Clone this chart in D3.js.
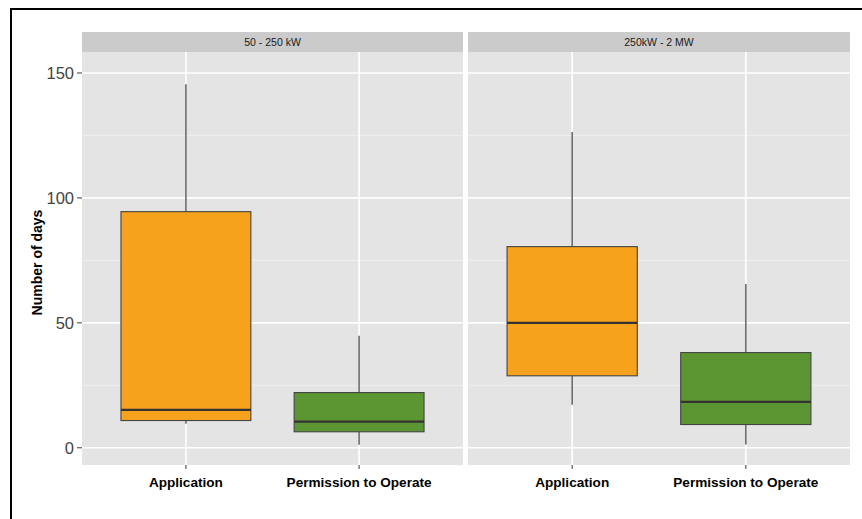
<!DOCTYPE html>
<html>
<head>
<meta charset="utf-8">
<script src="https://cdn.jsdelivr.net/npm/d3@7"></script>
<style>
  body { margin: 0; background: #fff; }
  svg { display: block; font-family: "Liberation Sans", Arial, sans-serif; }
</style>
</head>
<body>
<div id="chart"></div>
<script>
// facets and categories
const facets = ["50 - 250 kW", "250kW - 2 MW"];
const categories = ["Application", "Permission to Operate"];
const fills = ["#F6A21C", "#5C9632"];

// box stats per facet, in category order
const whiskLow = [[9.6, 1.2], [17.2, 1.3]];
const q1 = [[10.9, 6.4], [28.8, 9.3]];
const median = [[15.2, 10.5], [50, 18.4]];
const q3 = [[94.5, 22.1], [80.5, 38.1]];
const whiskHigh = [[145.5, 44.8], [126.4, 65.5]];

const yTicks = [0, 50, 100, 150];
const yMinor = [25, 75, 125];

const W = 862, H = 519;
const panelTop = 52, panelBottom = 465;
const stripH = 20;
const panelX = [[82, 463], [468, 850]];

const svg = d3.select("#chart").append("svg")
    .attr("width", W)
    .attr("height", H);

// outer frame (only left and top edges are visible)
svg.append("line").attr("x1", 11).attr("x2", 11).attr("y1", 9).attr("y2", H)
  .attr("stroke", "#000").attr("stroke-width", 2);
svg.append("line").attr("x1", 10).attr("x2", W).attr("y1", 9).attr("y2", 9)
  .attr("stroke", "#000").attr("stroke-width", 2);

const y = d3.scaleLinear()
  .domain([-6.9, 158.4])
  .range([panelBottom, panelTop]);

facets.forEach(function(f, fi) {
  const x0 = panelX[fi][0], x1 = panelX[fi][1];
  // discrete axis with ggplot's 0.6 expansion
  const x = d3.scaleLinear().domain([0.4, 2.6]).range([x0, x1]);
  const bw = x(1.75) - x(1);
  const g = svg.append("g");

  // strip
  g.append("rect")
    .attr("x", x0).attr("y", panelTop - stripH)
    .attr("width", x1 - x0).attr("height", stripH)
    .attr("fill", "#cbcbcb");
  g.append("text")
    .attr("x", (x0 + x1) / 2).attr("y", panelTop - stripH / 2)
    .attr("text-anchor", "middle").attr("dominant-baseline", "central")
    .attr("font-size", 10.5).attr("fill", "#1a1a1a")
    .text(f);

  // panel
  g.append("rect")
    .attr("x", x0).attr("y", panelTop)
    .attr("width", x1 - x0).attr("height", panelBottom - panelTop)
    .attr("fill", "#e4e4e4");

  g.selectAll(".minor").data(yMinor).join("line")
    .attr("x1", x0).attr("x2", x1)
    .attr("y1", d => y(d)).attr("y2", d => y(d))
    .attr("stroke", "#f2f2f2").attr("stroke-width", 0.8);
  g.selectAll(".major").data(yTicks).join("line")
    .attr("x1", x0).attr("x2", x1)
    .attr("y1", d => y(d)).attr("y2", d => y(d))
    .attr("stroke", "#fff").attr("stroke-width", 1.6);
  g.selectAll(".vmajor").data(categories).join("line")
    .attr("x1", (d, i) => x(i + 1)).attr("x2", (d, i) => x(i + 1))
    .attr("y1", panelTop).attr("y2", panelBottom)
    .attr("stroke", "#fff").attr("stroke-width", 1.6);

  // boxes
  categories.forEach(function(c, ci) {
    const cx = x(ci + 1);
    g.append("line")
      .attr("x1", cx).attr("x2", cx)
      .attr("y1", y(whiskHigh[fi][ci])).attr("y2", y(q3[fi][ci]))
      .attr("stroke", "#6b6b6b").attr("stroke-width", 1.6);
    g.append("line")
      .attr("x1", cx).attr("x2", cx)
      .attr("y1", y(q1[fi][ci])).attr("y2", y(whiskLow[fi][ci]))
      .attr("stroke", "#6b6b6b").attr("stroke-width", 1.6);
    g.append("rect")
      .attr("x", cx - bw / 2).attr("y", y(q3[fi][ci]))
      .attr("width", bw).attr("height", y(q1[fi][ci]) - y(q3[fi][ci]))
      .attr("fill", fills[ci]).attr("stroke", "#444").attr("stroke-width", 1.1);
    g.append("line")
      .attr("x1", cx - bw / 2).attr("x2", cx + bw / 2)
      .attr("y1", y(median[fi][ci])).attr("y2", y(median[fi][ci]))
      .attr("stroke", "#333").attr("stroke-width", 2.2);

    // x tick + label
    g.append("line")
      .attr("x1", cx).attr("x2", cx)
      .attr("y1", panelBottom).attr("y2", panelBottom + 4)
      .attr("stroke", "#4d4d4d").attr("stroke-width", 1.1);
    g.append("text")
      .attr("x", cx).attr("y", panelBottom + 22)
      .attr("text-anchor", "middle")
      .attr("font-size", 13.6).attr("font-weight", "bold").attr("fill", "#000")
      .text(c);
  });
});

// y axis
const ya = svg.append("g");
ya.selectAll("line").data(yTicks).join("line")
  .attr("x1", 77).attr("x2", 82)
  .attr("y1", d => y(d)).attr("y2", d => y(d))
  .attr("stroke", "#4d4d4d").attr("stroke-width", 1.1);
ya.selectAll("text").data(yTicks).join("text")
  .attr("x", 74).attr("y", d => y(d))
  .attr("text-anchor", "end").attr("dominant-baseline", "central")
  .attr("font-size", 16.5).attr("fill", "#444")
  .text(d => d);

svg.append("text")
  .attr("transform", `translate(37, ${(panelTop + panelBottom) / 2 + 4}) rotate(-90)`)
  .attr("text-anchor", "middle").attr("dominant-baseline", "central")
  .attr("font-size", 14).attr("font-weight", "bold").attr("fill", "#000")
  .text("Number of days");
</script>
</body>
</html>
